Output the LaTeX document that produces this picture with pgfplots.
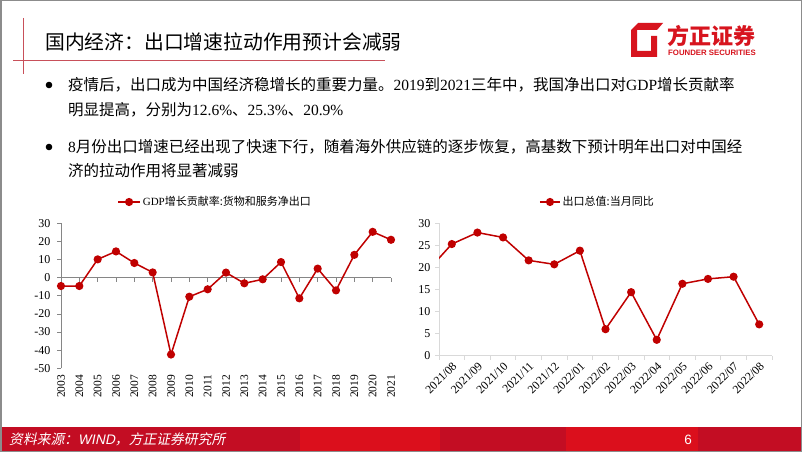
\documentclass[border=0pt]{standalone}
\usepackage{fontspec}
\setmainfont{Liberation Serif}
\newfontfamily\cjk{Noto Sans CJK SC}
\newfontfamily\cjkit{Noto Sans CJK SC}[FakeSlant=0.2]
\newfontfamily\sansf{Liberation Sans}
\newfontfamily\sansit{Liberation Sans}[FakeSlant=0.2]
\usepackage{pgfplots}
\pgfplotsset{compat=1.18}
\definecolor{ser}{HTML}{C00000}
\definecolor{axg}{HTML}{868686}
\definecolor{axl}{HTML}{D9D9D9}
\definecolor{tline}{HTML}{C8505A}
\definecolor{fdark}{HTML}{C30D23}
\definecolor{fbright}{HTML}{DB0F1C}
\definecolor{logored}{HTML}{D7141E}
\definecolor{frame}{HTML}{8C8C8C}
\begin{document}
\begin{tikzpicture}[x=1pt,y=1pt]
\path[use as bounding box, fill=white] (0,0) rectangle (802,452);
% title lines
\draw[tline, line width=1pt] (23,434) -- (23,378);
\draw[tline, line width=1pt] (13,391) -- (385,391);
\node[anchor=west, inner sep=0pt, font=\cjk\fontsize{19.8}{20}\selectfont] at (45,410) {国内经济：出口增速拉动作用预计会减弱};
% logo
\fill[logored] (631,422) -- (638,429) -- (663,429) -- (657,422) -- (637,422) -- (637,401) -- (651,401) -- (651,416) -- (657,416) -- (657,395) -- (631,395) -- cycle;
\node[anchor=west, inner sep=0pt, text=logored, font=\cjk\bfseries\fontsize{22}{22}\selectfont] at (667,416) {方正证券};
\node[anchor=west, inner sep=0pt, text=logored, font=\sansf\bfseries\fontsize{7.8}{8}\selectfont] at (668,399.5) {FOUNDER SECURITIES};
% bullets
\fill (49,367) circle (3.3);
\fill (49,305) circle (3.3);
\node[anchor=west, inner sep=0pt, font=\fontsize{15.5}{15.5}\selectfont] at (68,367) {{\cjk 疫情后，出口成为中国经济稳增长的重要力量。}2019{\cjk 到}2021{\cjk 三年中，我国净出口对}GDP{\cjk 增长贡献率}};
\node[anchor=west, inner sep=0pt, font=\fontsize{15.5}{15.5}\selectfont] at (68,342) {{\cjk 明显提高，分别为}12.6\%{\cjk 、}25.3\%{\cjk 、}20.9\%};
\node[anchor=west, inner sep=0pt, font=\fontsize{15.5}{15.5}\selectfont] at (68,305) {8{\cjk 月份出口增速已经出现了快速下行，随着海外供应链的逐步恢复，高基数下预计明年出口对中国经}};
\node[anchor=west, inner sep=0pt, font=\fontsize{15.5}{15.5}\selectfont] at (68,281) {{\cjk 济的拉动作用将显著减弱}};
% footer
\fill[fdark] (0,0) rectangle (300,25);
\fill[fbright] (300,0) rectangle (440,25);
\fill[fdark] (440,0) rectangle (566,25);
\fill[fbright] (566,0) rectangle (698,25);
\fill[fdark] (698,0) rectangle (802,25);
\node[anchor=west, inner sep=0pt, text=white, font=\fontsize{13.8}{14}\selectfont] at (9,12.5) {{\cjkit 资料来源：}{\sansit WIND}{\cjkit ，方正证券研究所}};
\node[inner sep=0pt, text=white, font=\sansf\fontsize{13.5}{14}\selectfont] at (688,12.5) {6};
% left chart
\begin{axis}[
  at={(61pt,83.7pt)}, anchor=south west, scale only axis,
  width=330pt, height=145pt,
  xmin=0, xmax=18, ymin=-50, ymax=30,
  axis y line*=left, axis x line*=middle,
  hide obscured x ticks=false,
  axis line style={draw=axg, line width=0.8pt},
  every tick/.style={draw=axg, line width=0.8pt},
  tick align=outside, major tick length=4pt,
  ytick={-50,-40,-30,-20,-10,0,10,20,30},
  xtick={0,...,18},
  xticklabels={2003,2004,2005,2006,2007,2008,2009,2010,2011,2012,2013,2014,2015,2016,2017,2018,2019,2020,2021},
  xticklabel shift=92pt,
  xticklabel style={rotate=90, anchor=east, inner sep=1pt, font=\fontsize{11.5}{12}\selectfont},
  yticklabel style={font=\fontsize{12}{12}\selectfont, xshift=-3pt},
  /pgf/number format/assume math mode=true,
  legend style={at={(rel axis cs:0.467,1.147)}, anchor=center, draw=none, fill=none, inner sep=0pt, font=\fontsize{11}{11}\selectfont},
  legend image code/.code={\draw[mark repeat=2,mark phase=2,#1] plot coordinates {(0pt,0pt) (11pt,0pt) (22pt,0pt)};},
]
\addplot[ser, line width=1.5pt, mark=*, mark size=3.3pt, mark options={fill=ser, draw=ser}] coordinates {
(0,-4.6)(1,-4.6)(2,10.1)(3,14.5)(4,8.1)(5,2.9)(6,-42.4)(7,-10.5)(8,-6.4)(9,2.8)(10,-3.1)(11,-0.9)(12,8.6)(13,-11.4)(14,5.0)(15,-7.0)(16,12.6)(17,25.3)(18,20.9)};
\addlegendentry{GDP{\cjk 增长贡献率:货物和服务净出口}}
\end{axis}
% right chart
\begin{axis}[
  at={(439pt,96.3pt)}, anchor=south west, scale only axis,
  width=333pt, height=132.4pt,
  xmin=-0.5, xmax=12.5, ymin=0, ymax=30,
  axis x line*=bottom, axis y line*=left,
  axis line style={draw=axl, line width=0.8pt},
  every tick/.style={draw=axl, line width=0.8pt},
  tick align=outside, major tick length=4pt,
  ytick={0,5,10,15,20,25,30},
  xtick={-0.5,0.5,...,12.5},
  x tick label as interval,
  xticklabels={2021/08,2021/09,2021/10,2021/11,2021/12,2022/01,2022/02,2022/03,2022/04,2022/05,2022/06,2022/07,2022/08},
  xticklabel style={rotate=45, anchor=north east, inner sep=1pt, font=\fontsize{11.8}{12}\selectfont},
  yticklabel style={font=\fontsize{12}{12}\selectfont, xshift=-1pt},
  /pgf/number format/assume math mode=true,
  legend style={at={(rel axis cs:0.476,1.161)}, anchor=center, draw=none, fill=none, inner sep=0pt, font=\fontsize{11}{11}\selectfont},
  legend image code/.code={\draw[mark repeat=2,mark phase=2,#1] plot coordinates {(0pt,0pt) (10pt,0pt) (20pt,0pt)};},
]
\addplot[ser, line width=1.5pt, mark=*, mark size=3.3pt, mark options={fill=ser, draw=ser}] coordinates {
(-1,18.9)(0,25.3)(1,27.9)(2,26.8)(3,21.6)(4,20.7)(5,23.8)(6,6.0)(7,14.4)(8,3.6)(9,16.3)(10,17.4)(11,17.9)(12,7.1)};
\addlegendentry{{\cjk 出口总值:当月同比}}
\end{axis}
\draw[frame, line width=1.5pt] (0.75,0.75) rectangle (801.25,451.25);
\end{tikzpicture}
\end{document}
